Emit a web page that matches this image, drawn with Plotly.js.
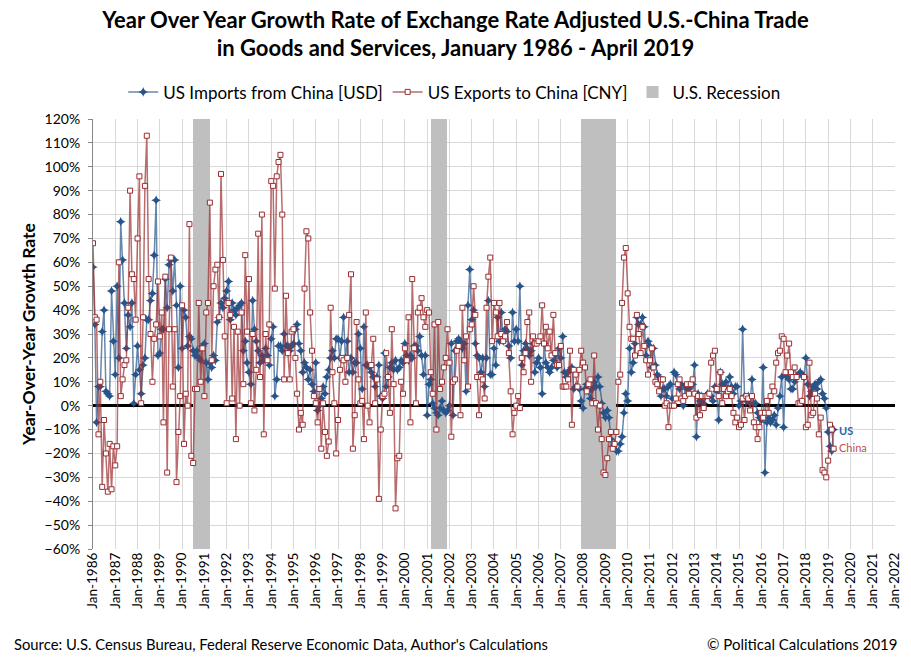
<!DOCTYPE html>
<html>
<head>
<meta charset="utf-8">
<script src="https://cdn.plot.ly/plotly-3.0.1.min.js"></script>
<style>
  body { margin: 0; background: #fff; }
  #graph { width: 911px; height: 662px; }
</style>
</head>
<body>
<div id="graph"></div>
<script>
// year-over-year growth, percent, one value per month from Jan 1986 to Apr 2019
var usImports = [
  58, 34, -7, 8, 8, 31, 40, 6, 5, 4, 48, 27,          // 1986
  13, 50, 20, 77, 61, 43, 24, 38, 33, 43, 1, 13,      // 1987
  25, 15, 5, 17, 20, 36, 36, 44, 47, 63, 86, 21,      // 1988
  22, 32, 32, 53, 41, 59, 61, 48, 61, 42, 16, 50,     // 1989
  24, 40, 37, 25, 29, 28, 23, 21, 23, 20, 19, 25,     // 1990
  26, 18, 11, 18, 16, 21, 19, 35, 37, 43, 41, 45,     // 1991
  48, 52, 36, 43, 40, 38, 41, 42, 43, 23, 27, 18,     // 1992
  14, 9, 44, 32, 27, 23, 18, 21, 19, 24, 21, 17,      // 1993
  28, 33, 4, 11, 25, 25, 23, 30, 25, 25, 23, 25,      // 1994
  26, 32, 34, 26, 23, 14, 18, 16, 11, 15, 9, 6,       // 1995
  18, -2, 0, 3, 8, 5, 12, 15, 20, 23, 20, 28,         // 1996
  28, 20, 27, 37, 20, 27, 14, 20, 14, 18, 18, 30,     // 1997
  24, 7, 33, 17, 17, 16, 14, 12, 8, 12, 17, 4,        // 1998
  3, 22, 8, 12, 16, 18, 15, 19, 15, 16, 19, 18,       // 1999
  26, 21, 19, 21, 20, 25, 25, 23, 29, 21, 13, 21,     // 2000
  -4, 9, 11, 1, -1, -3, -4, -1, 2, -2, -3, -2,        // 2001
  0, 26, -4, 23, 27, 28, 27, 24, 26, 6, 42, 57,       // 2002
  36, 40, 26, 21, 20, 14, 20, 8, 20, 44, 13, 13,      // 2003
  24, 17, 37, 27, 39, 27, 32, 31, 25, 20, 39, 27,     // 2004
  32, 27, 50, 17, 23, 26, 24, 21, 23, 26, 14, 18,     // 2005
  20, 16, 5, 26, 18, 16, 14, 16, 19, 21, 16, 24,      // 2006
  20, 29, 14, 12, 14, 15, 16, 7, 8, 8, 7, 2,          // 2007
  -1, 7, 9, 6, 3, 7, 10, 8, 12, 8, 1, -3,             // 2008
  -5, -2, -5, -14, -17, -16, -19, -19, -16, -13, -3, 5, // 2009
  2, 24, 14, 18, 26, 37, 34, 34, 37, 33, 21, 27,      // 2010
  25, 16, 24, 17, 13, 12, 4, 7, 7, 4, 8, 9,           // 2011
  3, 14, 13, 9, 7, 9, 0, 8, 7, 7, 8, 9,               // 2012
  17, -13, 5, 2, 4, 1, 4, 5, 4, 4, 2, 8,              // 2013
  6, -6, 14, 9, 8, 10, 7, 12, 8, 5, 8, 8,             // 2014
  0, 2, 32, 4, 2, 4, 1, 11, 1, 1, -3, -5,             // 2015
  -6, 16, -28, -7, -5, -7, -6, -4, -8, -1, 4, 12,     // 2016
  -9, 13, 12, 11, 7, 7, 10, 12, 13, 14, 13, 12,       // 2017
  20, 9, 4, 6, 8, 9, 7, 10, 11, 5, 3, -1,             // 2018
  -11, -17, -19, -10                                  // 2019
];

var usExports = [
  68, 37, 36, -12, 10, -34, -6, -20, -36, -16, -35, -17,  // 1986
  -25, -17, 60, 4, 11, 17, 19, 41, 90, 55, 53, 36,        // 1987
  70, 96, 1, 37, 92, 113, 53, 30, 10, 28, 34, 52,         // 1988
  29, 39, -7, 54, -28, 32, 62, 8, 32, -32, -11, 4,        // 1989
  42, -16, 5, 0, 76, -21, -24, 7, 7, 43, 10, 24,          // 1990
  4, 39, 43, 85, 19, 50, 57, 59, 37, 97, 61, 29,          // 1991
  1, 43, 38, 3, 33, -14, 31, 0, 39, 9, 63, 31,            // 1992
  53, 1, 30, -2, 15, 72, 12, 80, -12, 30, 19, 34,         // 1993
  94, 92, 49, 96, 102, 105, 80, 11, 46, 22, 11, 31,       // 1994
  32, 20, 5, -10, -3, -8, 49, 73, 70, 39, 23, 4,          // 1995
  1, -7, 7, -18, 1, -11, -21, -15, 41, 14, 1, -20,        // 1996
  -6, 15, 20, 19, 10, 20, 38, 55, -18, -4, 35, 11,        // 1997
  1, 2, -14, 39, 0, -7, 17, 28, 1, 11, -39, -10,          // 1998
  4, 5, 22, 12, -3, 32, 9, -43, -22, -21, 10, 5,          // 1999
  24, 19, 37, -7, 53, 24, 1, 39, 41, 45, 37, 33,          // 2000
  40, 39, 14, 5, 34, -10, 35, 7, 10, 16, 20, 32,          // 2001
  18, -13, 10, 11, 23, 25, -4, 41, 19, 29, 8, 32,         // 2002
  34, 50, 38, 12, -4, 12, 11, 3, 41, 54, 62, 27,          // 2003
  43, 39, 29, 43, 30, 27, 29, 35, 22, 6, -12, -3,         // 2004
  0, 4, -1, 20, 14, 22, 35, 39, 10, 29, 26, 26,           // 2005
  27, 29, 42, 26, 33, 24, 31, 21, 38, 22, 17, 17,         // 2006
  25, 8, 8, 8, 11, 23, -8, 15, 13, 8, 15, 23,             // 2007
  18, 16, 6, 9, 11, 1, 21, 1, -10, 0, -14, -28,           // 2008
  -29, -22, -14, -11, -18, -16, -11, 10, 13, 43, 62, 66,  // 2009
  47, 33, 28, 28, 21, 38, 30, 22, 33, 25, 19, 13,         // 2010
  19, 24, 16, 10, 9, 6, 11, 11, 0, 1, -9, 0,              // 2011
  0, 0, 3, 9, 11, 3, 2, 4, 9, 5, 9, 11,                   // 2012
  5, -5, 4, -4, 4, -1, 4, 4, 5, 18, 21, 23,               // 2013
  7, 4, 14, 1, 7, 4, 6, 7, 4, -3, -7, -5,                 // 2014
  -9, -8, 3, -6, 4, 3, -2, 4, -7, -9, -14, -9,            // 2015
  -3, -5, -3, 2, -3, 4, 8, 6, 18, 22, 23, 29,             // 2016
  28, 14, 21, 26, 14, 12, 16, 12, 1, 1, 2, 12,            // 2017
  -9, -8, 18, -4, -3, 5, 3, -12, -5, -27, -28, -30,       // 2018
  -23, -8, -10, -18                                       // 2019
];

var firstYear = 1986;
var recessionStart = ['1990-07-01', '2001-03-01', '2007-12-01'];
var recessionEnd = ['1991-03-31', '2001-11-30', '2009-06-30'];

function months(n) {
  var out = [];
  for (var i = 0; i < n; i++) {
    var y = firstYear + Math.floor(i / 12), m = i % 12 + 1;
    out.push(y + '-' + (m < 10 ? '0' : '') + m + '-01');
  }
  return out;
}

var dates = months(usImports.length);
var recWidth = recessionStart.map(function (s, i) { return Date.parse(recessionEnd[i]) - Date.parse(s); });

var blue = '#27548A', red = '#9B2D30';
var font = 'Lato, "Open Sans", sans-serif';

var recession = {
  type: 'bar', name: 'U.S. Recession',
  x: recessionStart, y: recessionStart.map(function () { return 180; }),
  base: -60, width: recWidth, offset: 0,
  marker: { color: '#BFBFBF', line: { width: 0 } },
  hoverinfo: 'skip', legendrank: 3
};

var imports = {
  type: 'scatter', mode: 'lines+markers', name: 'US Imports from China [USD]',
  x: dates, y: usImports,
  line: { color: 'rgba(39,84,138,0.7)', width: 1.5 },
  marker: { symbol: 'star-diamond', size: 7, color: blue, line: { width: 0 } },
  legendrank: 1
};

var exports = {
  type: 'scatter', mode: 'lines+markers', name: 'US Exports to China [CNY]',
  x: dates, y: usExports,
  line: { color: 'rgba(155,45,48,0.7)', width: 1.5 },
  marker: { symbol: 'square', size: 5, color: '#fff', line: { color: red, width: 1 } },
  legendrank: 2
};

var layout = {
  width: 911, height: 662,
  margin: { l: 93, r: 16, t: 119, b: 113 },
  paper_bgcolor: '#fff', plot_bgcolor: '#fff',
  font: { family: font, color: '#000', size: 13 },
  showlegend: true,
  title: {
    text: '<b>Year Over Year Growth Rate of Exchange Rate Adjusted U.S.-China Trade<br>in Goods and Services, January 1986 - April 2019</b>',
    font: { family: font, size: 22, color: '#000' },
    x: 0.5, xref: 'container', y: 0.958, yref: 'container', yanchor: 'top'
  },
  legend: {
    orientation: 'h', x: 0.451, xanchor: 'center', y: 1.062, yanchor: 'middle',
    font: { family: font, size: 17 }, traceorder: 'normal'
  },
  bargap: 0,
  xaxis: {
    type: 'date', range: ['1986-01-01', '2022-01-01'],
    tick0: '1986-01-01', dtick: 'M12', tickformat: '%b-%Y', tickangle: -90,
    tickfont: { family: font, size: 13.5 },
    showgrid: true, gridcolor: '#D9D9D9', gridwidth: 1,
    showline: false, ticks: '', zeroline: false
  },
  yaxis: {
    range: [-60, 120], dtick: 10, ticksuffix: '%',
    tickfont: { family: font, size: 14 },
    showgrid: true, gridcolor: '#D9D9D9', gridwidth: 1,
    zeroline: true, zerolinecolor: '#000', zerolinewidth: 2.5,
    showline: true, linecolor: '#888', linewidth: 1,
    ticks: 'outside', ticklen: 4, tickcolor: '#888', ticklabelstandoff: 5,
    title: { text: '<b>Year-Over-Year Growth Rate</b>', font: { family: font, size: 17.5 }, standoff: 4 }
  },
  annotations: [
    { x: '2019-06-01', y: -10.5, xref: 'x', yref: 'y', text: '<b>US</b>', showarrow: false,
      xanchor: 'left', font: { family: font, size: 11, color: '#2E64A8' } },
    { x: '2019-06-01', y: -17.5, xref: 'x', yref: 'y', text: 'China', showarrow: false,
      xanchor: 'left', font: { family: font, size: 11, color: '#C0504D' } },
    { x: -0.101, y: -0.221, xref: 'paper', yref: 'paper', xanchor: 'left', yanchor: 'middle',
      text: "Source: U.S. Census Bureau, Federal Reserve Economic Data, Author's Calculations",
      showarrow: false, font: { family: font, size: 14.8 } },
    { x: 1.006, y: -0.221, xref: 'paper', yref: 'paper', xanchor: 'right', yanchor: 'middle',
      text: '© Political Calculations 2019', showarrow: false, font: { family: font, size: 15 } }
  ]
};

Plotly.newPlot('graph', [recession, imports, exports], layout, { displayModeBar: false, staticPlot: true });
</script>
</body>
</html>
